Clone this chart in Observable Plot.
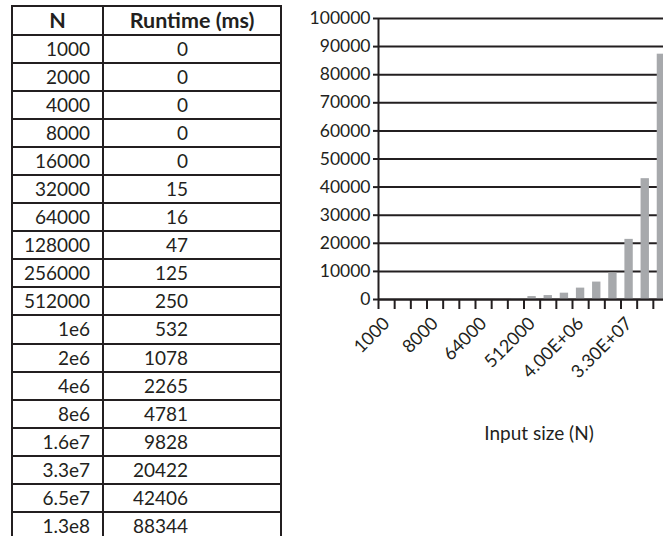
<!DOCTYPE html>
<html>
<head>
<meta charset="utf-8">
<script src="https://cdn.jsdelivr.net/npm/d3@7"></script>
<script src="https://cdn.jsdelivr.net/npm/@observablehq/plot@0.6"></script>
<style>
  html, body { margin: 0; padding: 0; width: 663px; height: 536px; overflow: hidden; background: #fff; }
  #tbl { position: absolute; left: 11px; top: 5px; }
  table { border-collapse: collapse; font-family: Lato, sans-serif; font-size: 19px; color: #231f20; }
  td, th { border: 2px solid #231f20; height: 26.1px; padding: 0; line-height: 26px; }
  th { font-weight: bold; text-align: center; font-size: 21.5px; height: 26.5px; }
  td.n { text-align: right; padding-right: 12px; width: 77px; }
  td.r { text-align: right; padding-right: 92px; width: 84px; }
  #chart { position: absolute; left: 290px; top: 0; }
</style>
</head>
<body>
<div id="tbl"></div>
<div id="chart"></div>
<script>
// Table contents
const headers = ["N", "Runtime (ms)"];
const nLabels = ["1000","2000","4000","8000","16000","32000","64000","128000","256000","512000","1e6","2e6","4e6","8e6","1.6e7","3.3e7","6.5e7","1.3e8"];
const runtimes = [0,0,0,0,0,15,16,47,125,250,532,1078,2265,4781,9828,20422,42406,88344];

// Chart: categories (x tick labels) and bar heights
const xCategories = ["1000","2000","4000","8000","16000","32000","64000","128000","256000","512000","1.00E+06","2.00E+06","4.00E+06","8.00E+06","1.60E+07","3.30E+07","6.50E+07","1.30E+08"];
const barValues = [0,0,0,0,0,15,16,47,125,1050,1400,2250,4050,6200,9400,21400,43000,87300];
const yTicks = [0,10000,20000,30000,40000,50000,60000,70000,80000,90000,100000];
const xTitle = "Input size (N)";

// build table
const tbl = document.createElement("table");
const hr = tbl.insertRow();
headers.forEach(h => { const th = document.createElement("th"); th.textContent = h; hr.appendChild(th); });
nLabels.forEach((n, i) => {
  const tr = tbl.insertRow();
  const a = tr.insertCell(); a.className = "n"; a.textContent = n;
  const b = tr.insertCell(); b.className = "r"; b.textContent = runtimes[i];
});
document.getElementById("tbl").appendChild(tbl);

// chart
const data = xCategories.map((c, i) => ({i, c, v: barValues[i]}));
const labelIdx = xCategories.map((c, i) => i).filter(i => i % 3 === 0);
const ink = "#231f20";

const plot = Plot.plot({
  width: 400,
  height: 460,
  marginLeft: 88,
  marginRight: 21,
  marginTop: 18,
  marginBottom: 161,
  style: {fontFamily: "Lato, sans-serif", fontSize: "17.5px", color: ink, background: "transparent", overflow: "visible", maxWidth: "none"},
  x: {domain: [0, xCategories.length], axis: null},
  y: {domain: [0, 100000], axis: null},
  marks: [
    Plot.gridY(yTicks, {stroke: ink, strokeOpacity: 1, strokeWidth: 2}),
    Plot.rectY(data, {x1: "i", x2: d => d.i + 1, y: "v", insetLeft: 3.9, insetRight: 3.9, fill: "#a7a9ac"}),
    Plot.ruleY([0], {stroke: ink, strokeWidth: 2}),
    Plot.ruleX([0], {stroke: ink, strokeWidth: 2}),
    Plot.axisY(yTicks, {tickSize: 5, tickPadding: 3, tickFormat: d => String(d), stroke: ink, strokeWidth: 2, fontSize: 17.5, label: null}),
    Plot.axisX(d3.range(xCategories.length + 1), {tickSize: 10, tickFormat: () => "", stroke: ink, strokeWidth: 2, label: null}),
    Plot.axisX(labelIdx.map(i => i + 0.5), {tickSize: 0, tickPadding: 21, tickRotate: -45, tickFormat: v => xCategories[Math.floor(v)], fontSize: 18, label: null}),
    Plot.text([xTitle], {frameAnchor: "bottom", dx: 15, dy: 140, fontSize: 19, fill: ink})
  ]
});
document.getElementById("chart").appendChild(plot);
</script>
</body>
</html>
